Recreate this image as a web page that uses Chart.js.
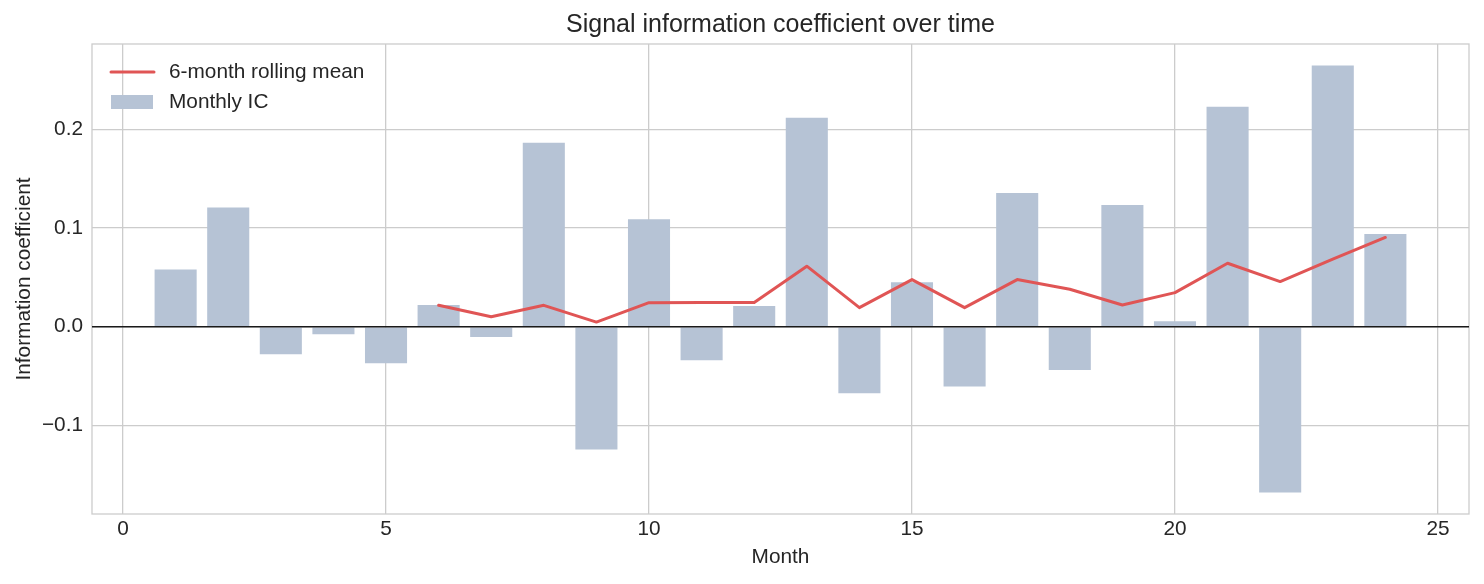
<!DOCTYPE html>
<html><head><meta charset="utf-8">
<script src="https://cdn.jsdelivr.net/npm/chart.js@4.4.1/dist/chart.umd.min.js"></script>
<style>html,body{margin:0;padding:0;background:#fff;} #wrap{width:1484px;height:584px;position:relative;}</style>
</head><body><div id="wrap"><canvas id="c"></canvas></div>
<script>
// ---- data ----
const months = [1,2,3,4,5,6,7,8,9,10,11,12,13,14,15,16,17,18,19,20,21,22,23,24];
const monthlyIC = [0.058, 0.121, -0.028, -0.0075, -0.037, 0.022, -0.0105, 0.1865, -0.1245, 0.109, -0.034, 0.021,
                   0.212, -0.0675, 0.045, -0.0605, 0.1355, -0.044, 0.1235, 0.0055, 0.223, -0.168, 0.265, 0.094];
const rollingMonths = [6,7,8,9,10,11,12,13,14,15,16,17,18,19,20,21,22,23,24];
const rollingMean = [0.0217, 0.0102, 0.0217, 0.0047, 0.0244, 0.0245, 0.0245, 0.0614, 0.0193, 0.0478,
                     0.0193, 0.0478, 0.038, 0.022, 0.0346, 0.0644, 0.0458, 0.0685, 0.0905];
const xTicks = [0,5,10,15,20,25];
const yTicks = [-0.1,0,0.1,0.2];
const yTickLabels = ['\u22120.1','0.0','0.1','0.2'];
const xLimits = [-0.59, 25.59];
const yLimits = [-0.1899, 0.2867];
const titleText = 'Signal information coefficient over time';
const xLabel = 'Month';
const yLabel = 'Information coefficient';
const lineLabel = '6-month rolling mean';
const barLabel = 'Monthly IC';

// ---- styles ----
const FONT = "'Liberation Sans', Arial, sans-serif";
const TXT = '#262626';
const GRID = '#cccccc';
const BAR = '#b6c3d5';
const RED = '#e05555';

const frameAndZero = {
  id: 'frameAndZero',
  afterLayout(chart) {
    // center the title over the plotting area, like matplotlib
    const tb = chart.titleBlock;
    if (tb) { tb.left = chart.chartArea.left; tb.right = chart.chartArea.right; tb.width = tb.right - tb.left; }
  },
  afterDatasetDraw(chart, args) {
    if (args.index !== 1) return;
    const {ctx, chartArea: a} = chart;
    const y0 = chart.scales.y.getPixelForValue(0);
    ctx.save();
    ctx.strokeStyle = '#1a1a1a';
    ctx.lineWidth = 1.6;
    ctx.beginPath(); ctx.moveTo(a.left, y0); ctx.lineTo(a.right, y0); ctx.stroke();
    ctx.restore();
  },
  beforeDatasetsDraw(chart) {
    const {ctx, chartArea: a} = chart;
    ctx.save();
    ctx.strokeStyle = GRID; ctx.lineWidth = 1.3;
    ctx.strokeRect(a.left, a.top, a.right - a.left, a.bottom - a.top);
    ctx.restore();
  }
};

const innerLegend = {
  id: 'innerLegend',
  afterDraw(chart) {
    const {ctx, chartArea: a} = chart;
    const ds = chart.data.datasets;
    ctx.save();
    ctx.font = '20.8px ' + FONT;
    ctx.fillStyle = TXT;
    ctx.textBaseline = 'middle';
    ctx.textAlign = 'left';
    // line entry
    ctx.strokeStyle = ds[0].borderColor; ctx.lineWidth = 3; ctx.lineCap = 'round';
    ctx.beginPath(); ctx.moveTo(a.left + 19, a.top + 28); ctx.lineTo(a.left + 62, a.top + 28); ctx.stroke();
    ctx.fillText(ds[0].label, a.left + 77, a.top + 28.5);
    // bar entry
    ctx.fillStyle = ds[1].backgroundColor;
    ctx.fillRect(a.left + 19, a.top + 51, 42, 14);
    ctx.fillStyle = TXT;
    ctx.fillText(ds[1].label, a.left + 77, a.top + 58);
    ctx.restore();
  }
};

new Chart(document.getElementById('c'), {
  type: 'bar',
  data: {
    datasets: [
      {
        type: 'line', label: lineLabel,
        data: rollingMonths.map((m, i) => ({x: m, y: rollingMean[i]})),
        borderColor: RED, borderWidth: 3, pointRadius: 0, tension: 0, fill: false,
        borderJoinStyle: 'round', borderCapStyle: 'round'
      },
      {
        type: 'bar', label: barLabel,
        data: months.map((m, i) => ({x: m, y: monthlyIC[i]})),
        backgroundColor: BAR, borderWidth: 0,
        barPercentage: 1.0, categoryPercentage: 0.8
      }
    ]
  },
  options: {
    responsive: true, maintainAspectRatio: false, animation: false,
    devicePixelRatio: 1,
    layout: {padding: {left: 0, right: 15, top: 0, bottom: 0}},
    plugins: {
      legend: {display: false},
      tooltip: {enabled: false},
      title: {display: true, text: titleText, color: TXT,
              font: {family: FONT, size: 25, weight: 'normal'},
              padding: {top: 10, bottom: 4}}
    },
    scales: {
      x: {
        type: 'linear', min: xLimits[0], max: xLimits[1], offset: false,
        afterBuildTicks: s => { s.ticks = xTicks.map(v => ({value: v})); },
        afterFit: s => { s.height = 70; },
        ticks: {color: TXT, font: {family: FONT, size: 20.8}, padding: 3, maxRotation: 0,
                callback: v => String(v)},
        grid: {color: GRID, lineWidth: 1.3, drawTicks: false, offset: false},
        border: {display: false},
        title: {display: true, text: xLabel, color: TXT, font: {family: FONT, size: 20.8},
                padding: {top: 0, bottom: 14.5}}
      },
      y: {
        type: 'linear', min: yLimits[0], max: yLimits[1],
        afterBuildTicks: s => { s.ticks = yTicks.map(v => ({value: v})); },
        afterFit: s => { s.width = 92; },
        ticks: {color: TXT, font: {family: FONT, size: 20.8}, padding: 9,
                callback: (v) => { const i = yTicks.findIndex(t => Math.abs(t - v) < 1e-9); return i >= 0 ? yTickLabels[i] : ''; }},
        grid: {color: GRID, lineWidth: 1.3, drawTicks: false},
        border: {display: false},
        title: {display: true, text: yLabel, color: TXT, font: {family: FONT, size: 20.8},
                padding: {top: 11.5, bottom: 0}}
      }
    }
  },
  plugins: [frameAndZero, innerLegend]
});
</script></body></html>
